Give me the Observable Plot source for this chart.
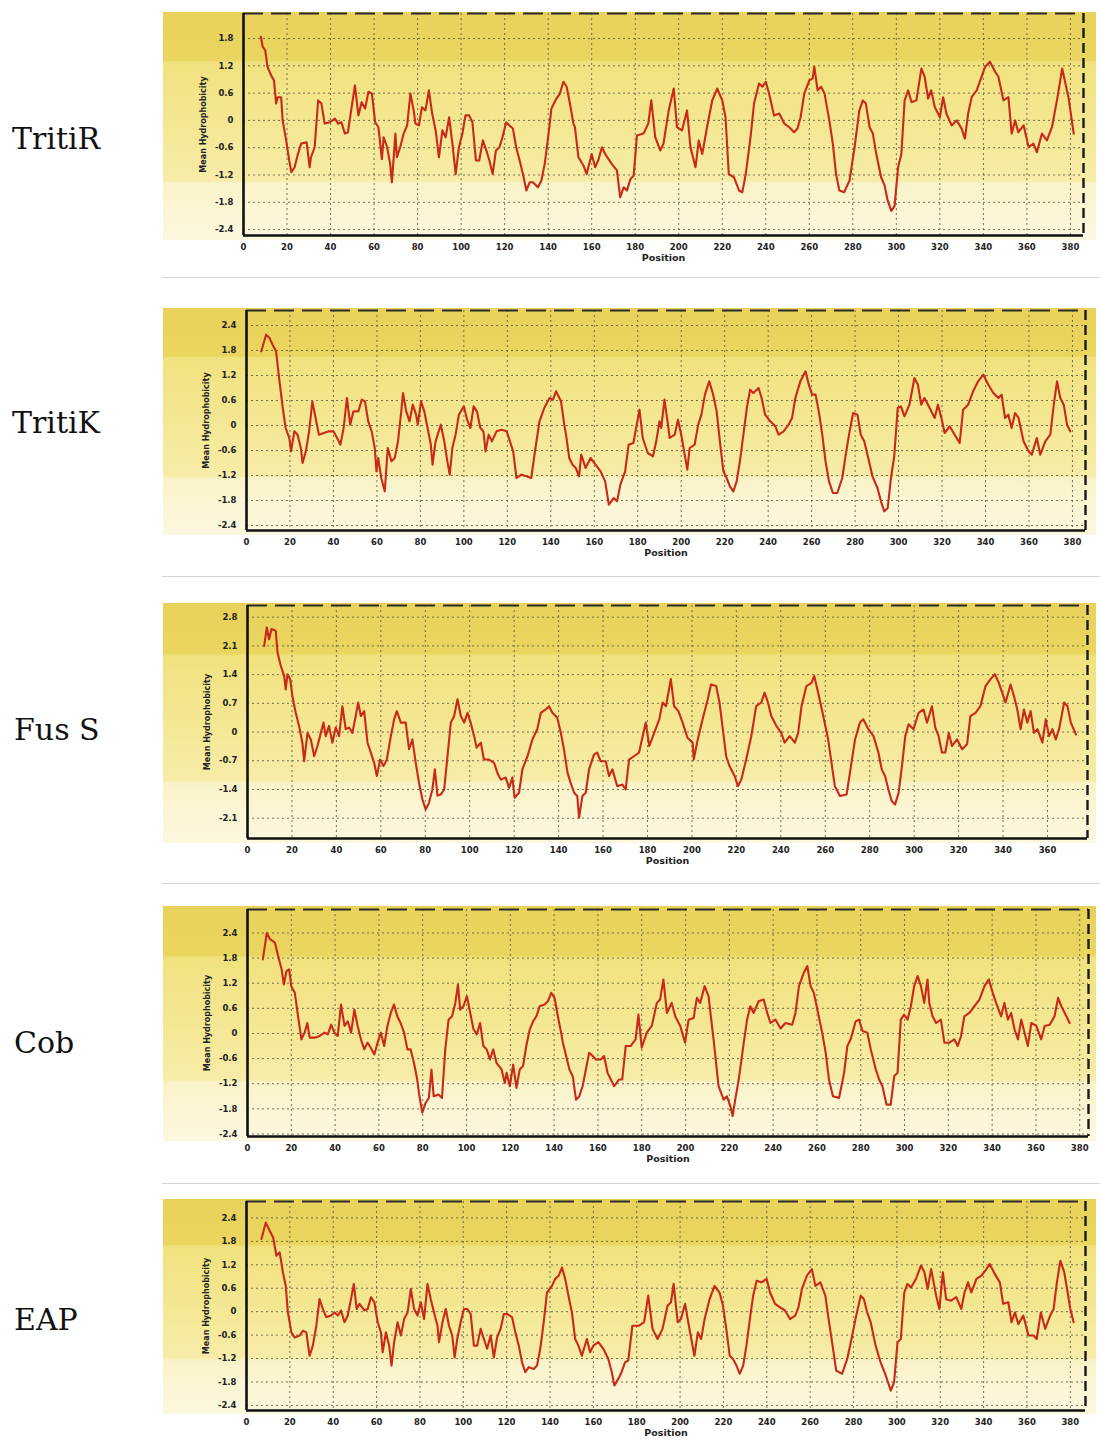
<!DOCTYPE html>
<html><head><meta charset="utf-8">
<script src="https://cdn.jsdelivr.net/npm/d3@7"></script>
<script src="https://cdn.jsdelivr.net/npm/@observablehq/plot@0.6"></script>
<style>
html,body{margin:0;padding:0;background:#fff;}
#root{position:relative;width:1101px;height:1440px;overflow:hidden;background:#fff;}
.bg{position:absolute;left:163px;width:933px;
 background:linear-gradient(to bottom,#e8d25b 0%,#ead55f 21%,#f1e27e 22%,#f3e58c 40%,#f5e99a 58%,#f7eca8 74%,#faf3c9 75%,#fcf8e0 100%);}
.lbl{position:absolute;font-family:"DejaVu Serif",serif;font-size:30px;color:#111;height:40px;line-height:40px;white-space:nowrap;}
.sep{position:absolute;left:162px;width:938px;height:1px;background:#d4d4d4;}
.panel{position:absolute;left:160px;}
</style></head><body><div id="root"></div>
<script>
// ---- tick labels ----
const xTicks380 = [0,20,40,60,80,100,120,140,160,180,200,220,240,260,280,300,320,340,360,380];
const xTicks360 = [0,20,40,60,80,100,120,140,160,180,200,220,240,260,280,300,320,340,360];
const yTicksTritiR = [-2.4,-1.8,-1.2,-0.6,0,0.6,1.2,1.8];
const yTicks24 = [-2.4,-1.8,-1.2,-0.6,0,0.6,1.2,1.8,2.4];
const yTicksFus = [-2.1,-1.4,-0.7,0,0.7,1.4,2.1,2.8];
const names = ["TritiR","TritiK","Fus S","Cob","EAP"];

// ---- series: [position, mean hydrophobicity] ----
const tritiR = [[8,1.84],[8.8,1.62],[10,1.54],[11,1.18],[12.7,0.99],[14,0.88],[15,0.37],[15.7,0.51],[17.3,0.51],[18,0],[19.6,-0.44],[21,-0.88],[22,-1.14],[23.5,-1.03],[25,-0.74],[26.5,-0.51],[29,-0.48],[30.4,-1.03],[31,-0.81],[32.7,-0.59],[34.3,0.44],[35.8,0.37],[37.3,-0.07],[39.7,-0.04],[42,0.04],[43.5,-0.07],[45,-0.04],[46.6,-0.29],[48,-0.26],[49.7,0.29],[51.2,0.77],[52.8,0.11],[54.3,0.40],[55.9,0.26],[57.4,0.63],[59,0.59],[60.5,-0.04],[62,-0.15],[63.6,-0.85],[64.4,-0.37],[66,-0.59],[67.4,-0.96],[68.2,-1.36],[69.8,-0.29],[70.5,-0.81],[72,-0.59],[73.6,-0.29],[75.2,-0.11],[76.7,0.59],[78.2,0.22],[79,-0.07],[80.6,-0.11],[82,0.29],[83.6,0.22],[85.2,0.66],[86.7,0.15],[88.3,-0.22],[89.8,-0.81],[91.4,-0.22],[92.9,-0.37],[94.5,0.07],[96,-0.51],[97.5,-1.18],[99,-0.59],[100.6,-0.29],[102,0.11],[103.7,0.11],[105.2,-0.04],[106.8,-0.88],[108.3,-0.88],[110,-0.44],[111.4,-0.63],[113,-0.88],[114.5,-1.18],[116,-0.66],[117.6,-0.59],[119,-0.37],[120.7,-0.04],[122.2,-0.11],[123.8,-0.18],[125.3,-0.59],[126.9,-0.88],[128.4,-1.18],[130,-1.54],[131.5,-1.36],[133,-1.36],[135.3,-1.47],[136.9,-1.32],[138.4,-0.96],[140,-0.37],[141.5,0.26],[143.8,0.48],[145.4,0.59],[147,0.85],[148.5,0.74],[150,0.37],[151.6,-0.07],[152.3,-0.15],[153.9,-0.81],[156.2,-0.99],[157.7,-1.18],[160,-0.74],[161.6,-1.03],[163,-0.88],[164.7,-0.59],[166.2,-0.74],[169.3,-0.96],[171.6,-1.10],[173.1,-1.69],[174.7,-1.47],[176.2,-1.54],[177.8,-1.29],[179.3,-1.21],
[180.8,-0.33],[183.8,-0.29],[186,-0.07],[187.4,0.44],[189.2,-0.37],[191.5,-0.66],[193,-0.51],[195.4,0.22],[197.7,0.70],[199.2,-0.15],[201.5,-0.22],[203.8,0.22],[205.4,-0.59],[207.7,-1.03],[209.2,-0.44],[210.8,-0.74],[213,-0.15],[215.4,0.44],[217.7,0.70],[220,0.44],[221.5,0.07],[223,-1.18],[225.4,-1.25],[227.7,-1.54],[229.2,-1.58],[230.8,-1.18],[233,-0.37],[234.6,0.37],[236.9,0.81],[238.5,0.74],[240,0.85],[241.5,0.59],[243.8,0.11],[246.2,0.15],[248.5,-0.07],[250.8,-0.15],[253,-0.26],[254.6,-0.18],[256,0.07],[257.7,0.59],[260,0.88],[261.5,0.92],[262.3,1.18],[263.8,0.66],[265.4,0.74],[267,0.59],[269.2,0],[270.8,-0.51],[272.3,-1.18],[273.8,-1.54],[276,-1.58],[278.5,-1.32],[280.8,-0.59],[283,0.22],[284.6,0.44],[286,0.37],[287.7,-0.15],[289.2,-0.29],[290.8,-0.74],[293,-1.25],[294.6,-1.43],[296,-1.76],[297.7,-1.99],[299.2,-1.88],[300.8,-1.03],[302.3,-0.74],[303.8,0.44],[305.4,0.66],[307,0.40],[309.2,0.44],[311.5,1.14],[313,0.96],[314.6,0.48],[316,0.66],[317.7,0.29],[320,0.07],[321.5,0.51],[323,0.15],[325.4,-0.11],[327.7,0],[330,-0.18],[331.5,-0.40],[333,0.15],[334.6,0.51],[336.9,0.66],[339.2,0.96],[340.8,1.18],[343,1.29],[345.4,1.07],[346.9,0.96],[349.2,0.44],[351.5,0.51],[353,-0.29],[354.6,0],[356,-0.26],[358.5,-0.11],[360.8,-0.59],[363,-0.51],[364.6,-0.70],[366.9,-0.29],[369.2,-0.44],[371.5,-0.15],[373.8,0.44],[376.2,1.14],[377.7,0.81],[379.2,0.48],[381.5,-0.29]];

const tritiK = [[6.8,1.78],[9,2.18],[10.6,2.10],[12,1.94],[13.6,1.78],[15,1.14],[16.7,0.42],[18,-0.06],[19.7,-0.30],[20.5,-0.62],[22,-0.14],[23.5,-0.22],[25,-0.54],[25.8,-0.90],[27.3,-0.62],[28.8,-0.14],[30.3,0.58],[31.8,0.18],[33.3,-0.22],[35.6,-0.18],[37.9,-0.14],[40,-0.14],[41.7,-0.30],[43.2,-0.46],[44.7,-0.06],[46.2,0.66],[47.7,0.02],[49.2,0.34],[51.5,0.34],[53,0.62],[54.5,0.58],[56,0.10],[57.6,-0.14],[59,-0.54],[59.8,-1.10],[60.6,-0.78],[62,-1.26],[63.6,-1.58],[65,-0.54],[66.7,-0.86],[68.2,-0.78],[69.7,-0.38],[71.2,0.34],[72,0.78],[73.5,0.34],[75,0.10],[76.5,0.50],[78,0.26],[78.8,0.02],[80.3,0.58],[81.8,0.34],[83.3,-0.06],[84.8,-0.46],[85.6,-0.94],[87,-0.38],[89.4,0.02],[91,-0.38],[92.4,-0.86],[93.5,-1.18],[94.7,-0.54],[96.2,-0.22],[97.7,0.26],[100,0.46],[101.5,0.14],[103,-0.06],[104.5,0.46],[106,0.34],[107.6,-0.06],[109,-0.14],[110,-0.62],[111.4,-0.22],[112.9,-0.38],[115,-0.14],[117.4,-0.10],[119.7,-0.14],[121.2,-0.38],[122.7,-0.62],[124.2,-1.26],[126.5,-1.18],[128.8,-1.22],[131,-1.26],[132.6,-0.66],[134.8,0.10],[137,0.42],[139.4,0.66],[141,0.62],[142.4,0.82],[144.7,0.58],[146.2,0.02],[147,-0.22],[148.5,-0.78],[150,-0.94],[151.5,-1.02],[153,-1.22],[154,-0.70],[156,-1.02],[158.3,-0.78],[160.6,-0.94],[162.9,-1.10],[165,-1.34],[166.7,-1.90],[169,-1.74],[170.5,-1.82],[172,-1.42],[174.2,-1.10],[175.8,-0.46],[178,-0.42],
[180.8,0.38],[182.3,-0.30],[184.6,-0.66],[187,-0.74],[188.5,-0.38],[190,0.10],[190.8,-0.06],[192.3,0.62],[193.9,0.02],[194.7,-0.30],[197,-0.22],[198.5,0.14],[200,-0.22],[201.6,-0.70],[202.8,-1.06],[203.9,-0.54],[206.2,-0.46],[207.8,0.02],[209.3,0.26],[210.9,0.74],[212.9,1.06],[214.7,0.74],[216.3,0.34],[217.8,-0.38],[219.4,-1.10],[220.9,-1.26],[222.4,-1.46],[224,-1.58],[225.5,-1.34],[227,-0.86],[228.6,-0.22],[230.2,0.42],[231.7,0.86],[233.2,0.78],[235.6,0.90],[237,0.66],[238.6,0.26],[241,0.10],[243.3,-0.02],[244.8,-0.22],[247.1,-0.14],[249.4,0.02],[251,0.18],[252.5,0.66],[254.8,1.06],[257.2,1.30],[258.7,0.98],[260.2,0.74],[261.8,0.74],[263.3,0.34],[264.9,-0.22],[266.4,-0.86],[268,-1.34],[269.8,-1.62],[271.8,-1.62],[274.1,-1.26],[275.7,-0.70],[277.2,-0.22],[279.1,0.30],[281.1,0.26],[282.6,-0.22],[284.2,-0.38],[285.7,-0.70],[288,-1.22],[290.3,-1.50],[291.9,-1.82],[293.4,-2.06],[295,-1.98],[296.5,-1.26],[298,-0.74],[299.6,0.42],[301.1,0.46],[302.7,0.22],[305,0.50],[307.3,1.14],[308.9,0.98],[310.4,0.50],[311.9,0.66],[314.3,0.42],[316.6,0.18],[318.1,0.50],[319.7,0.18],[321.2,-0.18],[323.5,-0.02],[325.8,-0.22],[328.1,-0.42],[329.7,0.38],[332,0.50],[334.3,0.82],[336.6,1.06],[339,1.22],[341.3,0.98],[343.6,0.78],[345.9,0.66],[347.4,0.74],[349,0.18],[350.5,0.26],[352,-0.06],[353.6,0.30],[355.2,0.18],[357.5,-0.38],[359.8,-0.62],[361.3,-0.70],[363.6,-0.30],[365.2,-0.70],[367.5,-0.38],[369.8,-0.22],[371.4,0.50],[372.9,1.06],[374.4,0.66],[376,0.50],[377.5,0.02],[379,-0.14]];

const fusS = [[7.5,2.10],[8.7,2.55],[9.7,2.26],[10.8,2.51],[12.7,2.47],[13.5,1.94],[15,1.61],[16.5,1.37],[17.2,1.04],[18,1.41],[19.2,1.29],[20.2,0.88],[21.7,0.47],[23.2,0.15],[24.7,-0.26],[25.5,-0.71],[27,-0.02],[28.5,-0.18],[30,-0.59],[31.5,-0.34],[33,-0.02],[34.2,0.23],[35.2,-0.10],[36.7,0.15],[38.2,-0.26],[39.7,0.11],[41.2,-0.10],[42.7,0.63],[44.2,0.07],[45.7,0.11],[47.2,-0.02],[48.7,0.39],[49.8,0.72],[51,0.39],[52.5,0.51],[54,-0.26],[55.5,-0.50],[57,-0.75],[58.2,-1.07],[59.7,-0.67],[61.2,-0.83],[62.7,-0.67],[64.5,-0.10],[66,0.31],[67.2,0.51],[69,0.23],[71.2,0.23],[72.7,-0.42],[74.2,-0.18],[75.7,-0.75],[77.2,-1.24],[78.7,-1.64],[80.2,-1.89],[81.7,-1.72],[83.2,-1.40],[84.3,-0.91],[85.5,-1.55],[87,-1.52],[88.5,-1.40],[90,-0.59],[91.5,0.23],[93,0.39],[94.5,0.80],[96,0.39],[97.5,0.23],[99,0.47],[100.4,0.23],[102,-0.10],[103.1,-0.38],[105,-0.26],[106.4,-0.67],[108.7,-0.67],[111,-0.75],[112.4,-0.99],[114,-1.16],[116.2,-1.11],[117.7,-1.36],[119.2,-1.11],[120.2,-1.60],[122.2,-1.48],[123.7,-0.91],[126,-0.59],[128.2,-0.18],[130.4,0.07],[132,0.47],[134.2,0.55],[135.7,0.63],[137.2,0.47],[139.4,0.35],[141,-0.02],[142.4,-0.42],[144,-0.99],[145.4,-1.24],[147,-1.48],[148.4,-1.56],[149.2,-2.09],[150.7,-1.56],[152.2,-1.48],[153.7,-0.91],[155.9,-0.55],[157.4,-0.50],[158.9,-0.71],[161.2,-0.71],[162.7,-1.07],[164.2,-0.91],[166.4,-1.32],[168.7,-1.28],[170.2,-1.40],[171.7,-0.67],[173.9,-0.59],[176.2,-0.50],
[179.2,0.23],[180.8,-0.34],[183,-0.02],[185.3,0.31],[186.8,0.72],[188.3,0.63],[190.5,1.29],[192,0.63],[193.9,0.51],[195.8,0.23],[198,-0.14],[200.3,-0.26],[200.8,-0.67],[202.6,-0.18],[204.8,0.31],[207.1,0.80],[208.6,1.16],[210.9,1.12],[212.4,0.72],[213.9,0.07],[215.4,-0.59],[216.9,-0.83],[219.2,-1.07],[220.7,-1.32],[222.2,-1.16],[224.4,-0.67],[226.7,-0.10],[228.9,0.63],[231.2,0.72],[232.7,0.96],[234.2,0.72],[235.7,0.39],[238,0.15],[240.2,-0.02],[241.7,-0.26],[244,-0.10],[246.3,-0.26],[247.8,-0.02],[249.3,0.63],[251.5,1.12],[253.8,1.20],[255,1.37],[256.8,0.96],[259.1,0.39],[261.3,-0.18],[262.8,-0.75],[264.3,-1.32],[266.6,-1.56],[269.6,-1.52],[271.1,-0.99],[273.4,-0.18],[275.6,0.23],[277.1,0.31],[279.4,0.07],[281.7,-0.10],[283.9,-0.50],[285.4,-0.91],[286.9,-1.07],[288.4,-1.40],[289.9,-1.68],[291.4,-1.77],[293,-1.48],[294.5,-0.83],[296,-0.10],[297.5,0.19],[299.7,0.07],[302,0.47],[304.2,0.55],[305.8,0.23],[308,0.63],[309.5,0.11],[311,-0.10],[312.5,-0.50],[314,-0.50],[315.6,-0.02],[317,-0.34],[319.3,-0.18],[321.6,-0.42],[323.8,-0.30],[325.3,0.39],[327.6,0.47],[329.8,0.63],[332.1,1.12],[334.4,1.29],[336.3,1.41],[338.1,1.20],[339.6,0.96],[341.1,0.72],[343.4,1.16],[344.9,0.88],[346.4,0.55],[347.9,0.07],[349.4,0.55],[350.9,0.23],[352.4,0.51],[353.9,-0.02],[355.5,0.07],[357.7,-0.26],[359.2,0.31],[360.7,-0.10],[362.2,0.07],[363.7,-0.18],[365.2,0.07],[367.5,0.72],[369,0.63],[370.5,0.23],[372.8,-0.06]];

const cob = [[7,1.77],[8.8,2.40],[10.3,2.25],[12.5,2.17],[14,1.85],[15.6,1.53],[16.6,1.17],[17.8,1.49],[19,1.53],[20,1.13],[21.6,0.97],[23.1,0.41],[24.6,-0.14],[26.1,0.02],[27.3,0.25],[28.4,-0.10],[30.7,-0.10],[32.9,-0.06],[35.2,0.02],[36.7,-0.02],[38.2,0.21],[39.7,0.02],[41.2,-0.06],[42.7,0.69],[44.3,0.18],[45.8,0.29],[47.3,0.02],[48.8,0.57],[50.3,0.18],[51.8,-0.14],[53.3,-0.38],[54.8,-0.22],[56.3,-0.34],[57.9,-0.50],[59.4,-0.22],[60.9,0.02],[62.4,-0.30],[63.9,0.18],[65.4,0.49],[66.9,0.69],[68.4,0.41],[69.9,0.25],[71.5,0.02],[73,-0.38],[74.5,-0.38],[76,-0.70],[77.5,-1.10],[78.5,-1.50],[79.8,-1.89],[81.3,-1.66],[82.8,-1.54],[84,-0.86],[85,-1.50],[87.3,-1.46],[88.8,-1.54],[90.3,-0.38],[91.8,0.33],[93.4,0.41],[94.9,0.73],[96.1,1.17],[97.1,0.57],[98.6,0.65],[100.2,0.89],[101.7,0.49],[103.2,0.10],[104.7,-0.02],[106.2,0.25],[107.7,-0.30],[109.2,-0.38],[110.7,-0.62],[112.2,-0.38],[113.7,-0.70],[116,-0.86],[117.5,-1.18],[118.3,-0.94],[119.8,-1.26],[121.3,-0.74],[122.8,-1.30],[124.3,-0.86],[125.8,-0.78],[127.3,-0.30],[128.9,0.10],[130.4,0.29],[131.9,0.41],[133.4,0.65],[135.6,0.69],[137.2,0.77],[138.7,0.97],[140.2,0.85],[141.7,0.41],[143.2,0.02],[144,-0.22],[145.5,-0.54],[147,-0.86],[148.5,-1.02],[150,-1.58],[151.5,-1.50],[153,-1.26],[154.5,-0.86],[156,-0.46],[157.6,-0.54],[159.1,-0.62],[161.3,-0.62],[162.8,-0.54],[164.4,-0.94],[165.9,-1.10],[167.4,-1.26],[169.6,-1.10],[171.1,-1.10],[172.7,-0.30],[174.9,-0.30],[177.2,-0.14],
[178.5,0.45],[180,-0.34],[182.3,0.02],[184.6,0.18],[186.9,0.73],[188.4,0.81],[189.9,1.29],[191.5,0.49],[193.7,0.73],[195.3,0.41],[197.6,0.18],[199.8,-0.22],[201.4,0.33],[203.7,0.37],[205.2,0.85],[206.7,0.73],[208.7,1.13],[210.5,0.89],[212.8,-0.14],[215.1,-1.26],[217.4,-1.58],[218.9,-1.50],[220.5,-1.74],[221.5,-1.97],[222.7,-1.58],[224.3,-1.10],[226.6,-0.22],[228.1,0.33],[229.6,0.65],[231.1,0.49],[233.4,0.77],[235.7,0.81],[237.3,0.49],[238.8,0.25],[241.1,0.33],[243.4,0.12],[245.6,0.25],[248.7,0.21],[250.2,0.49],[251.8,1.13],[254,1.45],[255.6,1.61],[257.1,1.13],[258.6,0.97],[260.2,0.57],[262.4,0.02],[264,-0.46],[265.5,-1.10],[267.3,-1.50],[270.1,-1.54],[272.4,-0.94],[273.9,-0.30],[275.4,-0.14],[277.7,0.29],[279.2,0.33],[280.8,0.06],[283,0.02],[284.6,-0.38],[286.9,-0.86],[288.4,-1.10],[289.9,-1.26],[291.8,-1.70],[293.7,-1.70],[295.3,-1.02],[296.8,-0.94],[298.3,0.33],[299.8,0.45],[301.4,0.33],[302.9,0.65],[304.4,1.13],[306,1.37],[307.5,1.13],[309,0.73],[310.5,1.29],[311.3,0.73],[312.8,0.41],[314.4,0.25],[316.6,0.33],[318.2,-0.22],[320.5,-0.22],[322.7,-0.14],[324.3,-0.30],[325.8,-0.06],[327.3,0.41],[329.6,0.49],[331.9,0.65],[334.2,0.81],[336.5,1.13],[338.5,1.29],[340.3,0.97],[341.8,0.73],[344.1,0.41],[345.6,0.73],[347.2,0.33],[348.7,0.49],[350.2,0.10],[351.8,-0.14],[353.3,0.33],[354.8,0.02],[356.3,-0.30],[357.9,0.25],[360.2,0.18],[362.4,-0.14],[364,0.18],[366.3,0.21],[368.5,0.41],[370.1,0.85],[371.6,0.65],[373.9,0.41],[375.4,0.25]];

const eap = [[6.9,1.86],[8.9,2.28],[10.7,2.07],[12.3,1.90],[13.8,1.43],[15.3,1.52],[16.8,1.01],[18.1,0.66],[19.1,-0.02],[20.7,-0.53],[22.2,-0.66],[24.5,-0.61],[26,-0.49],[27.6,-0.53],[29.1,-1.13],[30.6,-0.87],[32.2,-0.36],[33.7,0.32],[35.2,0.07],[36.8,-0.14],[39,-0.10],[40.6,-0.02],[42.1,-0.10],[43.6,0.03],[45.2,-0.27],[46.7,-0.10],[48.2,0.32],[49.5,0.71],[50.8,0.07],[52.1,0.20],[54.4,0.03],[55.9,0.07],[57.4,0.37],[59,0.24],[60.5,-0.27],[62,-0.53],[62.8,-1.04],[64.3,-0.53],[65.8,-0.87],[66.9,-1.38],[68.1,-0.78],[69.7,-0.27],[71.2,-0.61],[72.7,-0.19],[74.3,-0.02],[75.8,0.58],[77.3,0.07],[78.9,-0.10],[80.4,0.24],[81.9,-0.19],[83.5,0.71],[85,0.32],[86.5,-0.02],[88.1,-0.36],[88.8,-0.78],[90.4,-0.27],[91.9,0.07],[93.4,-0.36],[94.9,-0.61],[96,-1.17],[97.2,-0.70],[98.8,-0.27],[100.3,0.07],[101.8,0.07],[103.4,-0.06],[104.9,-0.87],[106.4,-0.87],[108,-0.44],[109.5,-0.70],[111,-0.95],[112.6,-0.61],[114.1,-1.17],[115.6,-0.66],[117.2,-0.44],[118.7,-0.06],[120.2,-0.06],[122.5,-0.14],[124,-0.53],[125.6,-0.87],[127.1,-1.30],[128.6,-1.55],[130.2,-1.42],[132.5,-1.47],[134,-1.38],[135.5,-0.95],[137.1,-0.27],[138.6,0.49],[140.9,0.66],[142.4,0.84],[144,0.92],[145.5,1.13],[147,0.84],[148.5,0.41],[150.1,-0.02],[151.6,-0.70],[153.1,-0.87],[154.7,-1.13],[157,-0.70],[158.5,-1.04],[160,-0.87],[162.3,-0.78],[164.6,-0.95],[166.9,-1.21],[168.5,-1.55],[169.7,-1.89],[171.5,-1.72],[173,-1.55],[174.6,-1.30],[176.1,-1.25],
[178,-0.36],[181.1,-0.36],[183.4,-0.27],[185.3,0.41],[187.3,-0.44],[189.6,-0.70],[191.9,-0.44],[194.2,0.15],[195.8,0.24],[197,0.71],[198.9,-0.27],[200.4,-0.19],[202.3,0.20],[204.3,-0.44],[206.6,-1.13],[208.2,-0.53],[209.7,-0.70],[211.3,-0.19],[213.6,0.32],[215.9,0.66],[218.2,0.49],[219.8,0.15],[221.3,-0.44],[222.9,-1.13],[224.4,-1.21],[226,-1.38],[227.5,-1.59],[229.1,-1.38],[230.6,-0.87],[232.2,-0.19],[233.7,0.41],[235.3,0.79],[237.6,0.75],[239.9,0.84],[241.5,0.49],[243.8,0.20],[246.1,0.11],[248.4,0.03],[250.7,-0.19],[253.1,-0.10],[254.6,0.11],[256.2,0.58],[258.5,0.92],[260.8,1.09],[262.4,0.66],[264.7,0.75],[267,0.41],[268.5,-0.19],[270.1,-0.78],[272,-1.51],[274.7,-1.59],[277.1,-1.21],[279.4,-0.61],[280.9,-0.19],[283.3,0.41],[284.8,0.32],[286.3,-0.02],[287.9,-0.27],[290.2,-0.87],[292.5,-1.30],[294.9,-1.64],[297.2,-2.02],[298.7,-1.81],[300.3,-0.78],[301.8,-0.70],[303.4,0.49],[304.9,0.71],[306.5,0.62],[308.8,0.84],[311.1,1.18],[312.7,1.01],[314.2,0.58],[315.8,1.09],[318.1,0.41],[319.6,0.07],[321.2,1.01],[322.7,0.32],[325,0.28],[327.4,0.37],[329.7,0.07],[331.2,0.49],[332.8,0.75],[334.3,0.49],[336.7,0.84],[339,0.92],[341.3,1.09],[342.8,1.22],[345.2,0.96],[347.5,0.75],[349,0.20],[351.4,0.24],[352.9,-0.27],[354.5,-0.02],[356,-0.32],[358.3,-0.10],[360.7,-0.61],[363,-0.61],[364.5,-0.70],[366.4,-0.02],[368.4,-0.44],[370.7,-0.10],[372.3,0.07],[373.8,0.75],[375.4,1.30],[377.2,1.01],[378.5,0.58],[380,0.07],[381.5,-0.27]];

// ---- layout (pixels) ----
const layout = [
 {data:tritiR, yTicks:yTicksTritiR, xTicks:xTicks380, yDom:[-2.53,2.35], xMax:386, plotTop:13, axisY:235, axisX:243, rightX:1083, bgTop:12, bgBottom:240, labelX:12, labelY:139, sepY:277},
 {data:tritiK, yTicks:yTicks24, xTicks:xTicks380, yDom:[-2.52,2.76], xMax:386, plotTop:310, axisY:530, axisX:246, rightX:1085, bgTop:308, bgBottom:535, labelX:12, labelY:423, sepY:576},
 {data:fusS, yTicks:yTicksFus, xTicks:xTicks360, yDom:[-2.595,3.085], xMax:378, plotTop:605, axisY:838, axisX:247, rightX:1087, bgTop:603, bgBottom:843, labelX:14, labelY:730, sepY:883},
 {data:cob, yTicks:yTicks24, xTicks:xTicks380, yDom:[-2.46,2.96], xMax:384, plotTop:909, axisY:1136, axisX:247, rightX:1088, bgTop:906, bgBottom:1141, labelX:14, labelY:1043, sepY:1183},
 {data:eap, yTicks:yTicks24, xTicks:xTicks380, yDom:[-2.53,2.82], xMax:387, plotTop:1201, axisY:1410, axisX:246, rightX:1085, bgTop:1199, bgBottom:1414, labelX:14, labelY:1320, sepY:null}
];

const root = document.getElementById("root");
const fmt = d => String(+(+d).toFixed(1));

layout.forEach((p, i) => {
  const bg = document.createElement("div");
  bg.className = "bg";
  bg.style.top = p.bgTop + "px";
  bg.style.height = (p.bgBottom - p.bgTop) + "px";
  root.appendChild(bg);

  const lbl = document.createElement("div");
  lbl.className = "lbl";
  lbl.style.left = p.labelX + "px";
  lbl.style.top = (p.labelY - 20) + "px";
  lbl.textContent = names[i];
  root.appendChild(lbl);

  if (p.sepY != null) {
    const s = document.createElement("div");
    s.className = "sep";
    s.style.top = p.sepY + "px";
    root.appendChild(s);
  }

  const mTop = 6, mBottom = 36;
  const chart = Plot.plot({
    width: 940,
    height: (p.axisY - p.plotTop) + mTop + mBottom,
    marginTop: mTop,
    marginBottom: mBottom,
    marginLeft: p.axisX - 160,
    marginRight: 1100 - p.rightX,
    style: {background: "transparent", fontFamily: "DejaVu Sans, sans-serif", fontSize: "8.5px", fontWeight: "bold", color: "#222", overflow: "visible"},
    x: {domain: [0, p.xMax], ticks: p.xTicks, tickFormat: fmt, tickSize: 0, tickPadding: 8, label: null},
    y: {domain: p.yDom, ticks: p.yTicks, tickFormat: fmt, tickSize: 0, tickPadding: 10, label: null},
    marks: [
      Plot.ruleY(p.yTicks, {stroke: "#5a5a40", strokeWidth: 1, strokeDasharray: "2,3", strokeOpacity: 0.85}),
      Plot.ruleX(p.xTicks.filter(d => d > 0), {stroke: "#5a5a40", strokeWidth: 1, strokeDasharray: "2,3", strokeOpacity: 0.85}),
      Plot.ruleY([p.yDom[1]], {stroke: "#2a2a2a", strokeWidth: 2, strokeDasharray: "20,8"}),
      Plot.ruleX([p.xMax], {stroke: "#1a1a1a", strokeWidth: 2.4, strokeDasharray: "10,5"}),
      Plot.line(p.data, {x: d => d[0], y: d => d[1], stroke: "#c92a17", strokeWidth: 2.1, strokeLinejoin: "round"}),
      Plot.ruleX([0], {stroke: "#111", strokeWidth: 2.6}),
      Plot.ruleY([p.yDom[0]], {stroke: "#111", strokeWidth: 2.6}),
      Plot.text(["Position"], {text: d => d, frameAnchor: "bottom", textAnchor: "middle", dy: 25, fontSize: 9.5, fontWeight: "bold", fill: "#222"}),
      Plot.text(["Mean Hydrophobicity"], {text: d => d, frameAnchor: "left", textAnchor: "middle", dx: -40, rotate: -90, fontSize: 8, fontWeight: "bold", fill: "#222"})
    ]
  });
  const wrap = document.createElement("div");
  wrap.className = "panel";
  wrap.style.top = (p.plotTop - mTop) + "px";
  wrap.appendChild(chart);
  root.appendChild(wrap);
});
</script></body></html>
